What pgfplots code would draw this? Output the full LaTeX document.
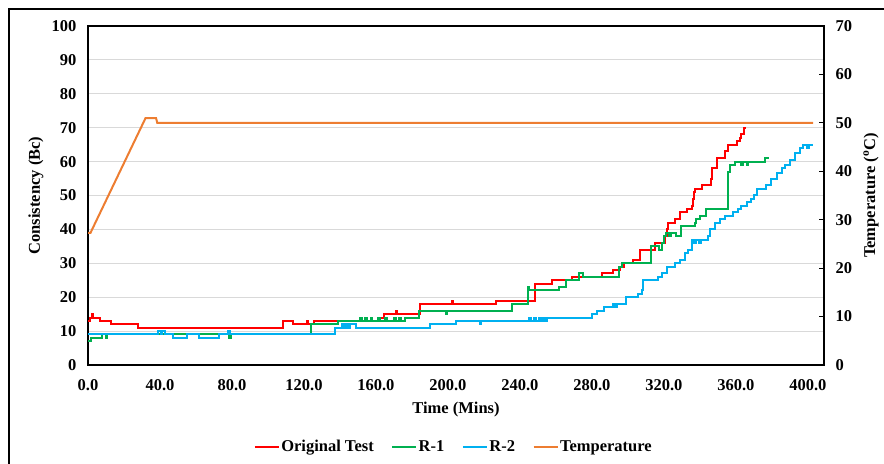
\documentclass[border=0pt]{standalone}
\usepackage{fontspec}
\setmainfont{Liberation Serif}
\usepackage{pgfplots}
\pgfplotsset{compat=1.18}

\definecolor{cOrig}{HTML}{FF0000}
\definecolor{cRone}{HTML}{00B050}
\definecolor{cRtwo}{HTML}{00B0F0}
\definecolor{cTemp}{HTML}{ED7D31}
\definecolor{cGrid}{HTML}{D9D9D9}

\newcommand{\lblfont}{\fontsize{16.5bp}{19bp}\selectfont\bfseries}

\pgfplotsset{
  base/.style={
    scale only axis, width=736bp, height=339bp,
    at={(0,0)}, anchor=south west,
    xmin=0, xmax=409,
    tick label style={font=\lblfont},
    /pgf/number format/assume math mode=true,
    axis line style={black, line width=1.2bp},
    label style={font=\lblfont},
  },
  ser/.style={line width=2bp, const plot, mark=none},
}

\begin{document}
\begin{tikzpicture}
\useasboundingbox (-88bp,-99bp) rectangle (796bp,365bp);
\draw[line width=1.2bp] (-79bp,-120bp) -- (-79bp,356bp) -- (820bp,356bp);

\begin{axis}[base,
  ymin=0, ymax=100, ytick={0,10,...,100},
  xtick={0,40,...,400},
  xticklabel style={yshift=-11bp, /pgf/number format/.cd, fixed, fixed zerofill, precision=1},
  yticklabel style={xshift=-8bp},
  major tick length=0pt,
  xtick pos=bottom, ytick pos=left,
  ymajorgrids, grid style={cGrid, line width=1bp},
  xlabel={Time (Mins)},
  xlabel style={at={(axis description cs:0.5,-0.13)}, anchor=center},
  ylabel={Consistency (Bc)},
  ylabel style={at={(axis description cs:-0.0707,0.5)}, anchor=center, rotate=0},
  legend style={at={(axis description cs:0.4966,-0.241)}, anchor=center,
    draw=none, fill=none, legend columns=4, font=\lblfont,
    nodes={inner xsep=1.5bp},
    /tikz/every even column/.append style={column sep=16bp}},
  legend image code/.code={\draw[#1] (0bp,0bp) -- (24bp,0bp);},
]
% Original Test
\addplot[cOrig, ser] coordinates {
(0,13) (1,14) (2,15) (2.8,14) (6.7,13) (13,12) (28,11) (108.5,13) (114,12)
(121.5,13) (122.3,12) (125.5,13) (161,14) (164.4,15) (171,16) (171.8,15)
(184.4,18) (202,19) (202.8,18) (227,19) (248.3,24) (258,25) (268.7,26)
(285.4,27) (291.5,28) (295.6,29) (298,30) (303,31) (306.7,34) (315,36)
(320.6,38) (321.5,40) (322.4,42) (326,43) (329,45) (332.6,46) (335.4,47)
(336,49) (336.6,51) (337.2,52) (341,53) (346,55) (346.5,58) (349.3,61)
(353.9,63) (355.7,65) (360.4,66) (362.2,67) (363.1,68) (364.5,70) (365.5,70)
};
% R-1
\addplot[cRone, ser] coordinates {
(0,7) (1.5,8) (7.6,9) (10,8) (10.7,9) (78.5,8) (79.2,9) (124,12) (139,13)
(151,14) (152,13) (154,14) (155,13) (157,14) (158,13) (161,14) (162,13)
(165,14) (166,13) (170,14) (171,13) (173,14) (174,13) (176,14) (184,16)
(199,15) (199.7,16) (235.4,18) (244.6,23) (245.3,22) (262,23) (265.6,25)
(273,27) (274.8,26) (295,29) (296.5,30) (313,35) (317.5,34) (318.7,36)
(320,38) (321,39) (323,38) (324,39) (327,38) (329.8,41) (337.2,42) (338,43)
(340,44) (343.7,46) (355.7,57) (356.7,59) (359.4,60) (363,59) (364,60)
(366,59) (367,60) (376,61) (378.5,61)
};
% R-2
\addplot[cRtwo, ser] coordinates {
(0,9) (39,10) (40.3,9) (41,10) (43,9) (47.4,8) (54.8,9) (61.7,8) (73,9)
(78,10) (79,9) (137.2,11) (141,12) (141.7,11) (142.5,12) (143.2,11) (144,12)
(144.6,11) (145.5,12) (149,11) (190,12) (204.4,13) (217.8,12) (218.5,13)
(245,14) (246,13) (248,14) (249,13) (250.5,14) (251.5,13) (253,14) (254,13)
(254.8,14) (280,15) (282.6,16) (286.7,17) (291.9,18) (292.6,17) (293.7,18)
(298.9,20) (305.7,21) (307.6,22) (308.3,25) (316.9,26) (318.7,27) (321.5,29)
(326,30) (328.9,31) (331.7,33) (333.5,34) (335.6,37) (337,36) (338,37)
(339.5,36) (340.5,37) (344.6,38) (345.6,40) (348.3,42) (351,43) (353.9,44)
(358.5,45) (361.3,46) (363.1,47) (366.3,48) (368.5,49) (370,50) (371.5,52)
(377,53) (379.8,55) (382.6,56.5) (385.4,58) (387.2,59) (390,60.5)
(392.8,62.5) (395.6,64) (397.4,65) (399.6,64) (400.6,65) (403,65)
};
\addlegendimage{cTemp, line width=2bp}
\legend{Original Test,R-1,R-2,Temperature}
\end{axis}

\begin{axis}[base,
  axis x line=none, axis y line*=right,
  ymin=0, ymax=70, ytick={0,10,...,70},
  tick align=inside, major tick length=5bp,
  ytick style={black, line width=1bp},
  yticklabel style={xshift=8bp},
  ylabel={Temperature (\textsuperscript{o}C)},
  ylabel style={at={(axis description cs:1.0639,0.5)}, anchor=center, rotate=0},
]
\addplot[cTemp, line width=2bp, mark=none] coordinates {
(0,27.3) (1.4,27.3) (32,51) (37.8,51) (38.5,50) (403,50)
};
\end{axis}
\end{tikzpicture}
\end{document}
